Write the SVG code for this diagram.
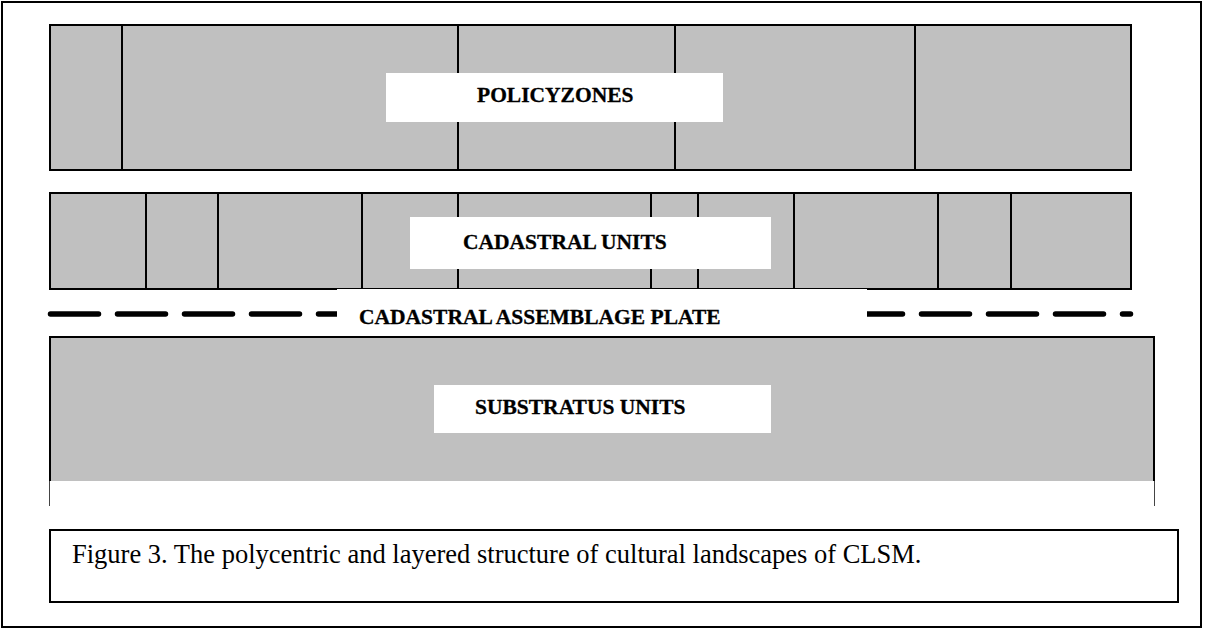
<svg xmlns="http://www.w3.org/2000/svg" width="1205" height="628" viewBox="0 0 1205 628">
<style>
.band{fill:#c0c0c0;stroke:#000;stroke-width:2}
.div{stroke:#000;stroke-width:2}
.lbl{fill:#fff;stroke:none}
.bt{font-family:"Liberation Serif","Times New Roman",serif;font-weight:bold;font-size:21.5px;fill:#000;stroke:#000;stroke-width:0.3}
.cap{font-family:"Liberation Serif","Times New Roman",serif;font-size:26.5px;fill:#000}
</style>
<rect x="0" y="0" width="1205" height="628" fill="#fff"/>
<rect id="frame" x="2" y="2" width="1199" height="625" fill="none" stroke="#000" stroke-width="2"/>
<g id="policyzones">
<rect class="band" x="50" y="25" width="1081" height="145"/>
<g class="div">
<line x1="122" y1="25" x2="122" y2="170"/>
<line x1="458" y1="25" x2="458" y2="170"/>
<line x1="675" y1="25" x2="675" y2="170"/>
<line x1="915" y1="25" x2="915" y2="170"/>
</g>
<rect class="lbl" x="386" y="73" width="337" height="49"/>
<text class="bt" x="477" y="102">POLICYZONES</text>
</g>
<g id="cadastral-units">
<rect class="band" x="50" y="193" width="1081" height="96"/>
<g class="div">
<line x1="146" y1="193" x2="146" y2="289"/>
<line x1="218" y1="193" x2="218" y2="289"/>
<line x1="362" y1="193" x2="362" y2="289"/>
<line x1="458" y1="193" x2="458" y2="289"/>
<line x1="651" y1="193" x2="651" y2="289"/>
<line x1="698" y1="193" x2="698" y2="289"/>
<line x1="794" y1="193" x2="794" y2="289"/>
<line x1="938" y1="193" x2="938" y2="289"/>
<line x1="1011" y1="193" x2="1011" y2="289"/>
</g>
<rect class="lbl" x="410" y="217" width="361" height="52"/>
<text class="bt" x="463" y="249">CADASTRAL UNITS</text>
</g>
<g id="connectors">
<line x1="50.5" y1="314" x2="1130.5" y2="314" stroke="#000" stroke-width="5.5" stroke-linecap="round" stroke-dasharray="48 19"/>
</g>
<g id="assemblage-plate">
<rect class="lbl" x="337" y="289" width="530" height="48"/>
<text class="bt" x="359" y="324">CADASTRAL ASSEMBLAGE PLATE</text>
</g>
<g id="substratus-units">
<rect x="50" y="337" width="1104" height="144" fill="#c0c0c0"/>
<line x1="49" y1="337" x2="1155" y2="337" stroke="#000" stroke-width="2"/>
<line x1="50" y1="336" x2="50" y2="481" stroke="#000" stroke-width="2"/>
<line x1="1154" y1="336" x2="1154" y2="481" stroke="#000" stroke-width="2"/>
<line x1="49.5" y1="481" x2="49.5" y2="506" stroke="#444" stroke-width="1"/>
<line x1="1154.5" y1="481" x2="1154.5" y2="506" stroke="#444" stroke-width="1"/>
<rect class="lbl" x="434" y="385" width="337" height="48"/>
<text class="bt" x="475" y="414">SUBSTRATUS UNITS</text>
</g>
<g id="caption">
<rect x="50" y="530" width="1128" height="72" fill="#fff" stroke="#000" stroke-width="2"/>
<text class="cap" x="72" y="563">Figure 3. The polycentric and layered structure of cultural landscapes of CLSM.</text>
</g>
</svg>
